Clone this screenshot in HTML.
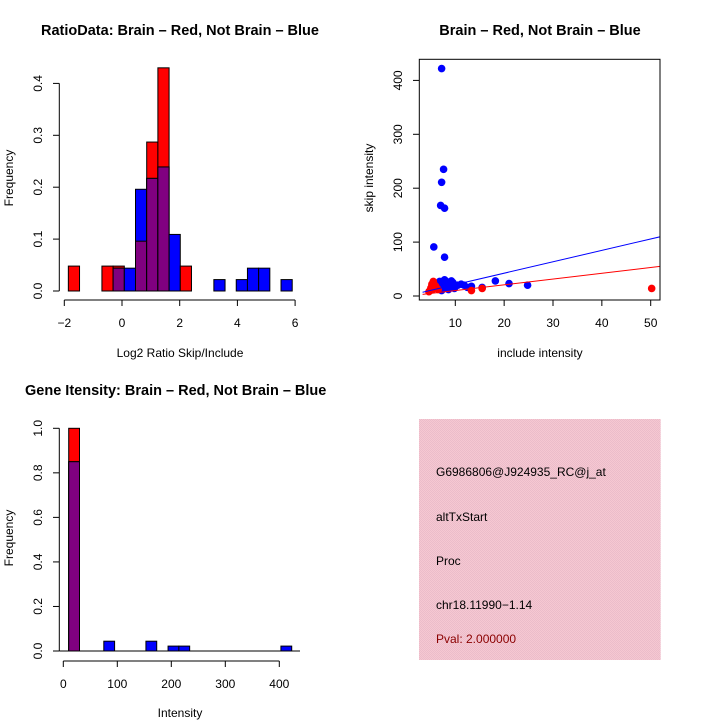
<!DOCTYPE html>
<html><head><meta charset="utf-8"><style>
body{margin:0;background:#fff}
svg{display:block;font-family:"Liberation Sans",sans-serif}
</style></head><body>
<svg id="c" width="720" height="720" viewBox="0 0 720 720">
<defs><pattern id="pk" width="2" height="2" patternUnits="userSpaceOnUse"><rect width="2" height="2" fill="#f6c8d2"/><rect width="1" height="1" fill="#ebbcca"/><rect x="1" y="1" width="1" height="1" fill="#ebbcca"/></pattern></defs>
</svg>
<script>
// ---- histogram 1 data ----
const h1Start = -1.86, h1Width = 0.388;
const h1Red  = [0.048,0,0,0.048,0.048,0,0.096,0.287,0.43,0,0.048,0,0,0,0,0,0,0,0,0];
const h1Blue = [0,0,0,0,0.044,0.044,0.196,0.217,0.239,0.109,0,0,0,0.022,0,0.022,0.044,0.044,0,0.022];
const h1XTicks = [-2,0,2,4,6];
const h1YTicks = [0,0.1,0.2,0.3,0.4];
// ---- scatter data ----
const blueX = [7.2,7.6,7.2,7,7.8,5.6,7.8,18.2,21,24.8,15.5,13.3,11.2,9.5,8,7.5,7,6.5,8.5,9,10,10.5,7.2,6.8,8.2,7.8,8.8,9.8,6.2,7.4,8.6,11.8,12.5,6.8,9.2];
const blueY = [422,235,211,168,163,91,72,28,23,20,16,18,22,25,28,25,20,15,18,22,18,20,10,27,15,30,25,14,22,17,12,20,16,24,28];
const redX = [5.5,5,4.8,5.3,6,13.3,50.2,5.8,6.5,15.5,5.2,4.6];
const redY = [27,15,10,12,18,10,14,20,12,14,22,8];
const blueLine = [[3.3,7],[52,110]];
const redLine = [[3.3,3],[52,55]];
const scXTicks = [10,20,30,40,50];
const scYTicks = [0,100,200,300,400];
// ---- histogram 2 data ----
const h2Lefts = [10,75,153,194,214,403];
const h2Width = 20;
const h2Red  = [1.0,0,0,0,0,0];
const h2Blue = [0.85,0.044,0.044,0.022,0.022,0.022];
const h2XTicks = [0,100,200,300,400];
const h2YTicks = [0,0.2,0.4,0.6,0.8,1.0];

const svg = document.getElementById('c');
const NS = 'http://www.w3.org/2000/svg';
function mk(tag, attrs, parent){const e=document.createElementNS(NS,tag);for(const k in attrs)e.setAttribute(k,attrs[k]);(parent||svg).appendChild(e);return e;}
function txt(s,x,y,opt,parent){const e=mk('text',Object.assign({x:x,y:y,'font-size':12,'text-anchor':'middle',fill:'#000'},opt||{}),parent);e.textContent=s;return e;}

// ---------- Histogram 1 ----------
const h1x = v => 64.3 + (v+2)*28.85;
const h1y = v => 291 - v*519;
const g1 = mk('g',{});


function bars(g, lefts, w, red, blue, xf, yf){
  for(let i=0;i<red.length;i++){
    const x0=xf(lefts(i)), x1=xf(lefts(i)+w);
    const r=red[i], b=blue[i];
    const draw=(v,col,name)=>{ if(v<=0) return; const e=mk('rect',{x:x0,y:yf(v),width:x1-x0,height:yf(0)-yf(v),fill:col,stroke:'#000','stroke-width':1},g);
      
       };
    draw(r,'#ff0000','bar-red');
    draw(b,'#0000ff','bar-blue');
    draw(Math.min(r,b),'#800080','bar-overlap');
  }
}
bars(g1,i=>h1Start+i*h1Width,h1Width,h1Red,h1Blue,h1x,h1y);
mk('line',{x1:h1x(-2),x2:h1x(6),y1:300,y2:300,stroke:'#000'},g1);
h1XTicks.forEach(t=>{mk('line',{x1:h1x(t),x2:h1x(t),y1:300,y2:306,stroke:'#000'},g1);txt(t<0?'\u2212'+(-t):String(t),h1x(t),327,{},g1);});
mk('line',{x1:59.3,x2:59.3,y1:h1y(0),y2:h1y(0.4),stroke:'#000'},g1);
h1YTicks.forEach(t=>{mk('line',{x1:53,x2:59.3,y1:h1y(t),y2:h1y(t),stroke:'#000'},g1);txt(t.toFixed(1),0,0,{transform:`translate(42,${h1y(t)}) rotate(-90)`},g1);});
txt('RatioData: Brain \u2013 Red, Not Brain \u2013 Blue',180,35,{'font-size':14.5,'font-weight':'bold'});
txt('Log2 Ratio Skip/Include',180,357,{});
txt('Frequency',0,0,{transform:'translate(13,178) rotate(-90)'});

// ---------- Scatter ----------
const sx = v => 455.3 + (v-10)*4.885;
const sy = v => 296 - v*0.539;
const g2 = mk('g',{});


const cp = mk('clipPath',{id:'scClip'},g2); mk('rect',{x:419.3,y:59.3,width:240.7,height:240.7},cp);
blueX.forEach((x,i)=>{const e=mk('circle',{cx:sx(x),cy:sy(blueY[i]),r:3.8,fill:'#0000ff'},g2);
  
  });
redX.forEach((x,i)=>{const e=mk('circle',{cx:sx(x),cy:sy(redY[i]),r:3.8,fill:'#ff0000'},g2);
  
  });
const bl=mk('line',{x1:sx(blueLine[0][0]),y1:sy(blueLine[0][1]),x2:sx(blueLine[1][0]),y2:sy(blueLine[1][1]),stroke:'#0000ff','clip-path':'url(#scClip)'},g2);


const rl=mk('line',{x1:sx(redLine[0][0]),y1:sy(redLine[0][1]),x2:sx(redLine[1][0]),y2:sy(redLine[1][1]),stroke:'#ff0000','clip-path':'url(#scClip)'},g2);


mk('rect',{x:419.3,y:59.3,width:240.7,height:240.7,fill:'none',stroke:'#000'},g2);
scXTicks.forEach(t=>{mk('line',{x1:sx(t),x2:sx(t),y1:300,y2:306,stroke:'#000'},g2);txt(String(t),sx(t),327,{},g2);});
scYTicks.forEach(t=>{mk('line',{x1:413,x2:419.3,y1:sy(t),y2:sy(t),stroke:'#000'},g2);txt(String(t),0,0,{transform:`translate(402,${sy(t)}) rotate(-90)`},g2);});
txt('Brain \u2013 Red, Not Brain \u2013 Blue',540,35,{'font-size':14.5,'font-weight':'bold'});
txt('include intensity',540,357,{});
txt('skip intensity',0,0,{transform:'translate(373,178) rotate(-90)'});

// ---------- Histogram 2 ----------
const hx = v => 63.3 + v*0.54;
const hy = v => 651 - v*222.7;
const g3 = mk('g',{});


bars(g3,i=>h2Lefts[i],h2Width,h2Red,h2Blue,hx,hy);
mk('line',{x1:59.3,x2:300,y1:651,y2:651,stroke:'#000'},g3);
mk('line',{x1:hx(0),x2:hx(400),y1:661,y2:661,stroke:'#000'},g3);
h2XTicks.forEach(t=>{mk('line',{x1:hx(t),x2:hx(t),y1:661,y2:667,stroke:'#000'},g3);txt(String(t),hx(t),688,{},g3);});
mk('line',{x1:59.3,x2:59.3,y1:hy(0),y2:hy(1),stroke:'#000'},g3);
h2YTicks.forEach(t=>{mk('line',{x1:53,x2:59.3,y1:hy(t),y2:hy(t),stroke:'#000'},g3);txt(t.toFixed(1),0,0,{transform:`translate(42,${hy(t)}) rotate(-90)`},g3);});
txt('Gene Itensity: Brain \u2013 Red, Not Brain \u2013 Blue',25,395,{'font-size':14.5,'font-weight':'bold','text-anchor':'start'});
txt('Intensity',180,717,{});
txt('Frequency',0,0,{transform:'translate(13,538) rotate(-90)'});

// ---------- Info box ----------
const g4 = mk('g',{});


mk('rect',{x:419,y:419,width:241.7,height:241,fill:'url(#pk)'},g4);
[['G6986806@J924935_RC@j_at',476,'#000'],['altTxStart',521,'#000'],['Proc',565,'#000'],['chr18.11990\u22121.14',609,'#000'],['Pval: 2.000000',643,'#8b0000']].forEach(l=>{
  const e=txt(l[0],436,l[1],{'text-anchor':'start',fill:l[2]},g4);
  
  
});
</script>
</body></html>
